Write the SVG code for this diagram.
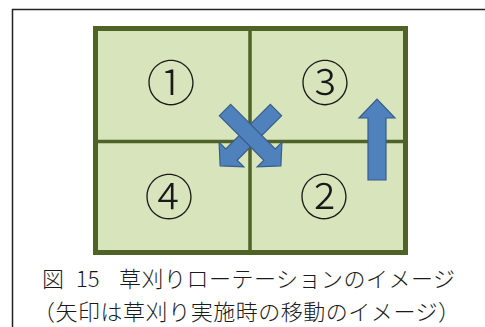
<svg xmlns="http://www.w3.org/2000/svg" width="485" height="327" viewBox="0 0 485 327">
<style>
.cell{fill:#d8e4bc;}
.num{font-family:"Noto Sans CJK JP","Noto Sans CJK SC",sans-serif;font-size:49px;font-weight:300;fill:#1a1a1a;text-anchor:middle;}
.cap{font-family:"Noto Sans CJK JP","Noto Sans CJK SC",sans-serif;font-size:22px;font-weight:300;fill:#1a1a1a;}
.arrow{fill:#4f81bd;stroke:#385d8a;stroke-width:1.2;stroke-linejoin:miter;}
.grid{stroke:#4f6228;fill:none;}
</style>
<defs>
<path id="diag" d="M0,-8 L63,-8 L63,-17.5 L79,0 L63,17.5 L63,8 L0,8 Z"/>
</defs>
<rect width="485" height="327" fill="#ffffff"/>
<rect x="12.5" y="9.5" width="480" height="330" fill="none" stroke="#222" stroke-width="1.5"/>
<rect x="93" y="26" width="315" height="229" class="cell"/>
<g id="cell1"><text class="num" x="171" y="101">①</text></g>
<g id="cell3"><text class="num" x="325" y="101">③</text></g>
<g id="cell4"><text class="num" x="169" y="215">④</text></g>
<g id="cell2"><text class="num" x="324" y="215">②</text></g>
<g id="gridlines">
<line class="grid" x1="250" y1="26" x2="250" y2="255" stroke-width="3.5"/>
<line class="grid" x1="93" y1="141.5" x2="408" y2="141.5" stroke-width="3.5"/>
<rect class="grid" x="95.5" y="28.5" width="310" height="224" stroke-width="5"/>
</g>
<g id="connectors">
<use href="#diag" class="arrow" transform="translate(276,110) rotate(135)"/>
<use href="#diag" class="arrow" transform="translate(225,110) rotate(45)"/>
<path class="arrow" d="M368,180 L368,118 L359,118 L377,99 L395,118 L386,118 L386,180 Z"/>
</g>
<g id="caption">
<text class="cap" y="287"><tspan x="42">図</tspan><tspan x="76">15</tspan><tspan x="119" textLength="336" lengthAdjust="spacing">草刈りローテーションのイメージ</tspan></text>
<text class="cap" x="33" y="320" textLength="427" lengthAdjust="spacing">（矢印は草刈り実施時の移動のイメージ）</text>
</g>
</svg>
